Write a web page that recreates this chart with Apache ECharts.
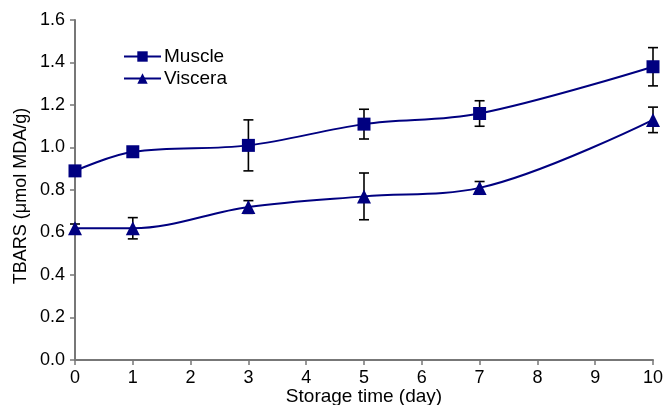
<!DOCTYPE html>
<html>
<head>
<meta charset="utf-8">
<script src="https://cdn.jsdelivr.net/npm/echarts@6/dist/echarts.min.js"></script>
<style>
  html, body { margin: 0; padding: 0; background: #fff; }
  #chart { width: 666px; height: 405px; }
</style>
</head>
<body>
<div id="chart"></div>
<script>
// storage days
const days = [0, 1, 3, 5, 7, 10];
// TBARS means
const muscle = [0.89, 0.98, 1.01, 1.11, 1.16, 1.38];
const viscera = [0.62, 0.62, 0.72, 0.77, 0.81, 1.13];
// standard deviations
const muscleErr = [0.01, 0.02, 0.12, 0.07, 0.06, 0.09];
const visceraErr = [0.02, 0.05, 0.03, 0.11, 0.03, 0.06];
const xTicks = [0, 1, 2, 3, 4, 5, 6, 7, 8, 9, 10];

const NAVY = '#000080';
const FONT = 'Liberation Sans, Arial, sans-serif';

let toPairs = (vals) => days.map((d, i) => [d, vals[i]]);
let toErr = (vals, errs) => days.map((d, i) => [d, vals[i] - errs[i], vals[i] + errs[i]]);

// black error bars with caps
let renderErr = function (params, api) {
    let x = api.value(0);
    let lo = api.coord([x, api.value(1)]);
    let hi = api.coord([x, api.value(2)]);
    let half = 5;
    let style = { stroke: '#000', lineWidth: 1.6 };
    return {
        type: 'group',
        children: [
            { type: 'line', shape: { x1: lo[0], y1: lo[1], x2: hi[0], y2: hi[1] }, style: style },
            { type: 'line', shape: { x1: lo[0] - half, y1: lo[1], x2: lo[0] + half, y2: lo[1] }, style: style },
            { type: 'line', shape: { x1: hi[0] - half, y1: hi[1], x2: hi[0] + half, y2: hi[1] }, style: style }
        ]
    };
};

let chart = echarts.init(document.getElementById('chart'), null, { renderer: 'canvas' });

chart.setOption({
    animation: false,
    textStyle: { fontFamily: FONT },
    grid: { left: 75, right: 13, top: 20, bottom: 45, containLabel: false, outerBoundsMode: 'none' },
    legend: {
        orient: 'vertical',
        left: 123,
        top: 47,
        padding: 0,
        itemWidth: 37,
        itemHeight: 13,
        itemGap: 3,
        textStyle: { fontFamily: FONT, fontSize: 19, color: '#000', padding: [0, 0, 0, -2] },
        data: ['Muscle', 'Viscera']
    },
    xAxis: {
        type: 'value',
        min: 0,
        max: 10,
        interval: 1,
        name: 'Storage time (day)',
        nameLocation: 'middle',
        nameGap: 27,
        nameMoveOverlap: false,
        nameTextStyle: { fontFamily: FONT, fontSize: 19, color: '#000' },
        axisLine: { lineStyle: { color: '#777', width: 2 } },
        axisTick: { show: true, length: 5, lineStyle: { color: '#777', width: 1.5 } },
        axisLabel: {
            fontFamily: FONT, fontSize: 18, color: '#000', margin: 9,
            formatter: (v) => xTicks.indexOf(v) >= 0 ? String(v) : ''
        },
        splitLine: { show: false }
    },
    yAxis: {
        type: 'value',
        min: 0,
        max: 1.6,
        interval: 0.2,
        name: 'TBARS (\u03bcmol MDA/g)',
        nameLocation: 'middle',
        nameGap: 45,
        nameMoveOverlap: false,
        nameTextStyle: { fontFamily: FONT, fontSize: 18, color: '#000', padding: [0, 12, 0, 0] },
        axisLine: { show: true, lineStyle: { color: '#777', width: 2 } },
        axisTick: { show: true, length: 5, lineStyle: { color: '#777', width: 1.5 } },
        axisLabel: {
            fontFamily: FONT, fontSize: 18, color: '#000', margin: 10,
            formatter: (v) => v.toFixed(1)
        },
        splitLine: { show: false }
    },
    series: [
        {
            name: 'Muscle',
            type: 'line',
            smooth: 0.35,
            data: toPairs(muscle),
            symbol: 'rect',
            symbolSize: 13,
            itemStyle: { color: NAVY },
            lineStyle: { color: NAVY, width: 2 },
            z: 3
        },
        {
            name: 'Viscera',
            type: 'line',
            smooth: 0.35,
            data: toPairs(viscera),
            symbol: 'triangle',
            symbolSize: 14,
            itemStyle: { color: NAVY },
            lineStyle: { color: NAVY, width: 2 },
            z: 3
        },
        {
            type: 'custom',
            renderItem: renderErr,
            data: toErr(muscle, muscleErr),
            encode: { x: 0, y: [1, 2] },
            z: 2
        },
        {
            type: 'custom',
            renderItem: renderErr,
            data: toErr(viscera, visceraErr),
            encode: { x: 0, y: [1, 2] },
            z: 2
        }
    ]
});
</script>
</body>
</html>
